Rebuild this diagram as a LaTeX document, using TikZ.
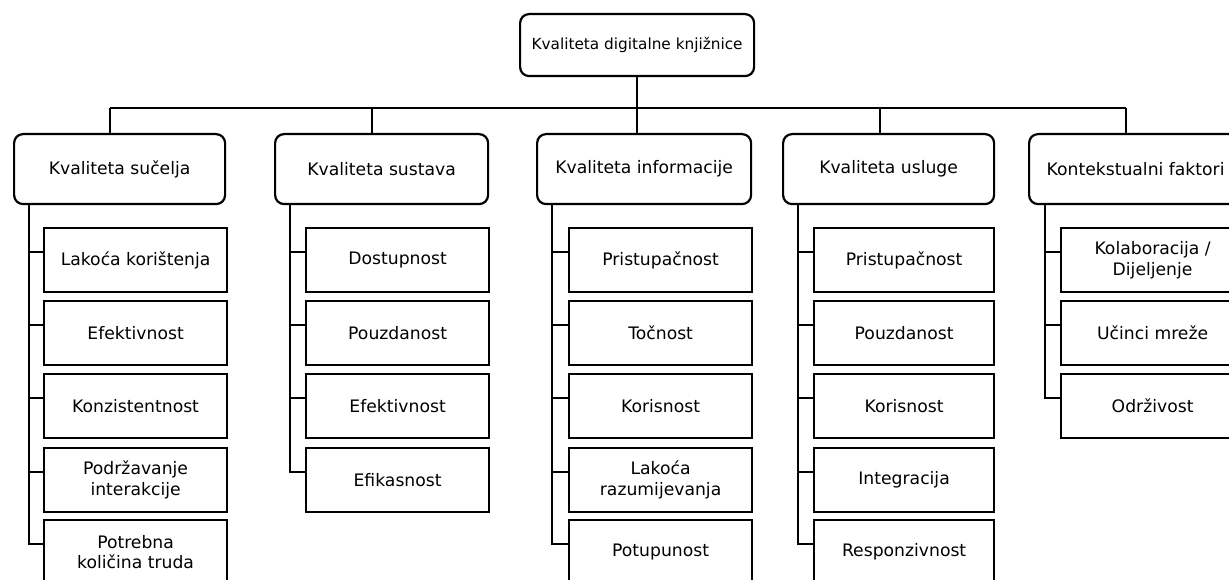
\documentclass[tikz,border=0pt]{standalone}
\usepackage{fontspec}
\setmainfont{DejaVu Sans}
\begin{document}
\begin{tikzpicture}[x=1pt,y=-1pt,
  box/.style={draw, line width=2.2pt, inner sep=0pt, align=center, anchor=north west, font=\fontsize{17.2}{20.5}\selectfont},
  catbox/.style={box, rounded corners=9pt, minimum height=70pt},
  sub/.style={box, minimum width=183pt, minimum height=64pt},
  link/.style={line width=2.2pt}]
\useasboundingbox (0,0) rectangle (1229,580);

% root
\node[box, rounded corners=9pt, minimum width=234pt, minimum height=62pt, font=\fontsize{15.3}{18}\selectfont] (top) at (519,13) {Kvaliteta digitalne knjižnice};

% categories
\node[catbox, minimum width=211pt] (k1) at (13,133) {Kvaliteta sučelja};
\node[catbox, minimum width=213pt] (k2) at (274,133) {Kvaliteta sustava};
\node[catbox, minimum width=214pt] (k3) at (536,133) {Kvaliteta informacije};
\node[catbox, minimum width=211pt] (k4) at (782,133) {Kvaliteta usluge};
\node[catbox, minimum width=213pt] (k5) at (1028,133) {Kontekstualni faktori};

% column 1
\node[sub] (a1) at (43,227) {Lakoća korištenja};
\node[sub] (a2) at (43,300) {Efektivnost};
\node[sub] (a3) at (43,373) {Konzistentnost};
\node[sub] (a4) at (43,447) {Podržavanje\\interakcije};
\node[sub] (a5) at (43,519) {Potrebna\\količina truda};
% column 2
\node[sub] (b1) at (305,227) {Dostupnost};
\node[sub] (b2) at (305,300) {Pouzdanost};
\node[sub] (b3) at (305,373) {Efektivnost};
\node[sub] (b4) at (305,447) {Efikasnost};
% column 3
\node[sub] (c1) at (568,227) {Pristupačnost};
\node[sub] (c2) at (568,300) {Točnost};
\node[sub] (c3) at (568,373) {Korisnost};
\node[sub] (c4) at (568,447) {Lakoća\\razumijevanja};
\node[sub] (c5) at (568,519) {Potupunost};
% column 4
\node[sub, minimum width=180pt] (d1) at (813,227) {Pristupačnost};
\node[sub, minimum width=180pt] (d2) at (813,300) {Pouzdanost};
\node[sub, minimum width=180pt] (d3) at (813,373) {Korisnost};
\node[sub, minimum width=180pt] (d4) at (813,447) {Integracija};
\node[sub, minimum width=180pt] (d5) at (813,519) {Responzivnost};
% column 5
\node[sub] (e1) at (1060,227) {Kolaboracija /\\Dijeljenje};
\node[sub] (e2) at (1060,300) {Učinci mreže};
\node[sub] (e3) at (1060,373) {Održivost};

% bus from root
\coordinate (h1) at (110,108);
\coordinate (h2) at (372,108);
\coordinate (h4) at (880,108);
\coordinate (h5) at (1126,108);
\draw[link] (top.south) -- (top.south |- k3.north);
\draw[link] (h1) -- (h5);
\draw[link] (h1) -- (h1 |- k1.north);
\draw[link] (h2) -- (h2 |- k2.north);
\draw[link] (h4) -- (h4 |- k4.north);
\draw[link] (h5) -- (h5 |- k5.north);

% column spines
\coordinate (s1) at ([xshift=16pt]k1.south west);
\coordinate (s2) at ([xshift=16pt]k2.south west);
\coordinate (s3) at ([xshift=16pt]k3.south west);
\coordinate (s4) at ([xshift=16pt]k4.south west);
\coordinate (s5) at ([xshift=17pt]k5.south west);
\foreach \n in {a1,a2,a3,a4,a5} \draw[link, line join=miter] (s1) |- ([yshift=8pt]\n.west);
\foreach \n in {b1,b2,b3,b4} \draw[link, line join=miter] (s2) |- ([yshift=8pt]\n.west);
\foreach \n in {c1,c2,c3,c4,c5} \draw[link, line join=miter] (s3) |- ([yshift=8pt]\n.west);
\foreach \n in {d1,d2,d3,d4,d5} \draw[link, line join=miter] (s4) |- ([yshift=8pt]\n.west);
\foreach \n in {e1,e2,e3} \draw[link, line join=miter] (s5) |- ([yshift=8pt]\n.west);
\end{tikzpicture}
\end{document}
